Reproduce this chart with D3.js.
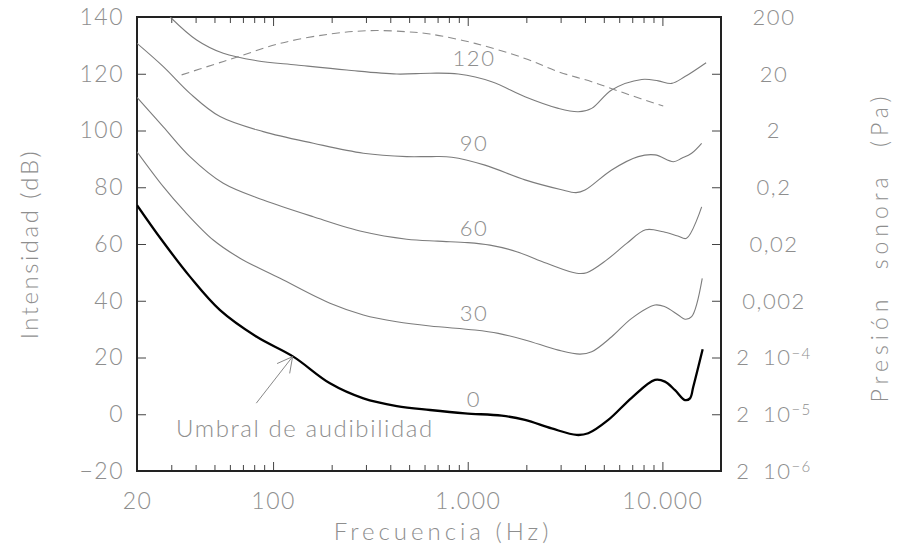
<!DOCTYPE html>
<html><head><meta charset="utf-8">
<script src="https://cdn.jsdelivr.net/npm/d3@7"></script>
<style>
body{margin:0;background:#fff}
text{font-family:Lato,'DejaVu Sans',sans-serif;font-weight:300;fill:#8e8e8e}
</style>
</head><body><svg id="chart" width="901" height="558"></svg>
<script>
// ---- data ----
const threshFreq = [20, 26.8, 37.4, 53.4, 82.4, 127, 196, 291, 432, 640, 968, 1494, 1968, 2698, 3628, 4160, 5272, 6952, 9160, 10300, 11610, 13060, 13860, 14410, 16100];
const threshDb   = [73.7, 61.4, 48.5, 36.7, 27.3, 20.3, 10.9, 5.6, 2.9, 1.5, 0.3, -0.5, -2.0, -5.0, -7.3, -6.7, -2.0, 5.8, 12.1, 11.5, 8.5, 5.0, 5.6, 9.7, 22.9];

const phon30Freq = [20, 27.3, 34.6, 49.3, 67.6, 108.6, 196, 291, 432, 640, 1090, 1436, 1968, 2920, 3774, 4333, 5488, 6952, 9160, 10300, 12060, 13060, 14130, 16020];
const phon30Db   = [92.5, 80.2, 72.0, 61.4, 55.0, 47.9, 39.1, 35.0, 32.6, 31.1, 29.7, 28.5, 26.2, 22.6, 21.2, 22.0, 27.3, 33.8, 38.5, 37.9, 35.0, 33.5, 34.4, 47.9];

const phon60Freq = [20, 27.3, 37.4, 55.5, 89.1, 161, 291, 486, 700, 1000, 1301, 1784, 2545, 3628, 4084, 5176, 6556, 8200, 10100, 12000, 13300, 15910];
const phon60Db   = [111.7, 101.3, 90.8, 81.4, 75.5, 69.6, 64.3, 61.7, 61.0, 60.5, 59.6, 57.3, 53.2, 49.7, 49.9, 54.4, 60.2, 65.0, 64.3, 62.8, 62.0, 73.1];

const phon90Freq = [20, 27.3, 37.4, 53.4, 89.1, 161, 291, 486, 640, 828, 1226, 1968, 3000, 3600, 4004, 5488, 7516, 9160, 11390, 12560, 14130, 15910];
const phon90Db   = [130.7, 122.5, 113.1, 104.9, 99.6, 95.5, 92.0, 90.8, 90.8, 90.6, 87.8, 82.6, 79.2, 78.1, 79.0, 86.1, 90.8, 91.4, 89.0, 90.2, 92.0, 95.5];

const phon120Freq = [29.6, 40.5, 55.5, 82.4, 132, 239, 432, 640, 894, 1328, 1968, 2920, 3698, 4333, 5488, 7830, 9528, 11160, 13060, 16770];
const phon120Db   = [140, 131.9, 127.2, 124.6, 123.1, 121.3, 119.9, 120.2, 119.9, 117.2, 111.9, 107.8, 106.6, 107.8, 114.3, 118.0, 117.5, 116.6, 119.0, 123.9];

const painFreq = [33.9, 49.3, 65, 108.6, 196, 315, 486, 640, 1090, 1968, 2920, 4333, 6427, 10100];
const painDb   = [119.6, 123.2, 125.8, 130.7, 134.0, 135.2, 134.8, 134.0, 130.7, 125.4, 120.7, 117.2, 113.1, 108.6];

const phonLevels = [0, 30, 60, 90, 120];
const phonLabelFreq = 1077;

const dbTicks = [140, 120, 100, 80, 60, 40, 20, 0, -20];
const dbTickLabels = ["140", "120", "100", "80", "60", "40", "20", "0", "\u221220"];
const pressureBase = ["200", "20", "2", "0,2", "0,02", "0,002", "2 10", "2 10", "2 10"];
const pressureExp  = ["", "", "", "", "", "", "\u22124", "\u22125", "\u22126"];

const freqLabelValues = [20, 100, 1000, 10000];
const freqLabels = ["20", "100", "1.000", "10.000"];
const freqMajor = [100, 1000, 10000];
const freqMinor = [30, 40, 50, 60, 70, 80, 90, 200, 300, 400, 500, 600, 700, 800, 900, 2000, 3000, 4000, 5000, 6000, 7000, 8000, 9000];

const annotationText = "Umbral de audibilidad";
const arrowFrom = [82, 3.9];
const arrowTo = [126, 20.3];

// ---- layout ----
const L = 137, R = 721, T = 17, B = 471;
const svg = d3.select("#chart");
const x = d3.scaleLog().domain([20, 20000]).range([L, R]);
const y = d3.scaleLinear().domain([-20, 140]).range([B, T]);

svg.append("defs").append("clipPath").attr("id", "clip")
  .append("rect").attr("x", L).attr("y", T).attr("width", R - L).attr("height", B - T);

const tickStroke = "#444";
function styleAxis(g) {
  g.select(".domain").remove();
  g.selectAll(".tick line").attr("stroke", tickStroke).attr("stroke-width", 1);
  g.selectAll(".tick text").style("font-size", "23px").style("letter-spacing", "1.5px").attr("fill", "#8e8e8e");
}

// left axis
svg.append("g").attr("transform", `translate(${L},0)`)
  .call(d3.axisLeft(y).tickValues(dbTicks).tickSize(-9).tickPadding(13)
    .tickFormat((d, i) => dbTickLabels[i]))
  .call(styleAxis)
  .call(g => g.selectAll(".tick text").attr("font-family", null));

// right axis ticks
svg.append("g").attr("transform", `translate(${R},0)`)
  .call(d3.axisRight(y).tickValues(dbTicks).tickSize(-9).tickFormat(""))
  .call(styleAxis);

// bottom ticks
svg.append("g").attr("transform", `translate(0,${B})`)
  .call(d3.axisBottom(x).tickValues(freqMinor).tickSize(-6).tickFormat(""))
  .call(styleAxis);
svg.append("g").attr("transform", `translate(0,${B})`)
  .call(d3.axisBottom(x).tickValues(freqMajor).tickSize(-9).tickFormat(""))
  .call(styleAxis);
svg.append("g").attr("transform", `translate(0,${B})`)
  .call(d3.axisBottom(x).tickValues(freqLabelValues).tickSize(0).tickPadding(22)
    .tickFormat((d, i) => freqLabels[i]))
  .call(styleAxis);
// top ticks
svg.append("g").attr("transform", `translate(0,${T})`)
  .call(d3.axisTop(x).tickValues(freqMinor).tickSize(-6).tickFormat(""))
  .call(styleAxis);
svg.append("g").attr("transform", `translate(0,${T})`)
  .call(d3.axisTop(x).tickValues(freqMajor).tickSize(-9).tickFormat(""))
  .call(styleAxis);

// right pressure labels
const pl = svg.append("g").selectAll("text").data(pressureBase).join("text")
  .attr("x", 774).attr("y", (d, i) => y(dbTicks[i]))
  .attr("dy", "0.36em").attr("text-anchor", "middle")
  .style("font-size", "22px").style("letter-spacing", "1.5px").style("word-spacing", "5px");
pl.append("tspan").text(d => d);
pl.append("tspan").text((d, i) => pressureExp[i])
  .attr("dy", "-0.45em").style("font-size", "15px");

// frame
svg.append("rect").attr("x", L).attr("y", T).attr("width", R - L).attr("height", B - T)
  .attr("fill", "none").attr("stroke", "#222").attr("stroke-width", 2);

// curves
const line = d3.line().x(d => x(d[0])).y(d => y(d[1])).curve(d3.curveCatmullRom.alpha(0.5));
const zip = (f, v) => f.map((d, i) => [d, v[i]]);
const plot = svg.append("g").attr("clip-path", "url(#clip)");
const thin = [zip(phon30Freq, phon30Db), zip(phon60Freq, phon60Db), zip(phon90Freq, phon90Db), zip(phon120Freq, phon120Db)];
plot.selectAll("path.iso").data(thin).join("path").attr("class", "iso")
  .attr("d", line).attr("fill", "none").attr("stroke", "#7c7c7c").attr("stroke-width", 1.1);
plot.append("path").datum(zip(painFreq, painDb)).attr("d", line)
  .attr("fill", "none").attr("stroke", "#8c8c8c").attr("stroke-width", 1.1).attr("stroke-dasharray", "8,5");
plot.append("path").datum(zip(threshFreq, threshDb)).attr("d", line)
  .attr("fill", "none").attr("stroke", "#000").attr("stroke-width", 2.3);

// phon labels
svg.append("g").selectAll("text").data(phonLevels).join("text")
  .attr("x", x(phonLabelFreq)).attr("y", d => y(d + 5.5)).attr("dy", "0.36em")
  .attr("text-anchor", "middle").style("font-size", "22px").style("letter-spacing", "1.5px")
  .text(d => d);

// annotation
svg.append("text").attr("x", 176).attr("y", 437)
  .style("font-size", "24px").style("letter-spacing", "1.6px").text(annotationText);
const ax0 = x(arrowFrom[0]), ay0 = y(arrowFrom[1]), ax1 = x(arrowTo[0]), ay1 = y(arrowTo[1]);
const ang = Math.atan2(ay0 - ay1, ax0 - ax1), hl = 17, ha = 28 * Math.PI / 180;
const arrowPath = d3.path();
arrowPath.moveTo(ax0, ay0); arrowPath.lineTo(ax1, ay1);
arrowPath.moveTo(ax1 + hl * Math.cos(ang - ha), ay1 + hl * Math.sin(ang - ha));
arrowPath.lineTo(ax1, ay1);
arrowPath.lineTo(ax1 + hl * Math.cos(ang + ha), ay1 + hl * Math.sin(ang + ha));
svg.append("path").attr("d", arrowPath.toString()).attr("fill", "none").attr("stroke", "#888").attr("stroke-width", 1);

// axis titles
svg.append("text").attr("transform", "translate(38,244) rotate(-90)").attr("text-anchor", "middle")
  .style("font-size", "24px").style("letter-spacing", "2.5px").text("Intensidad (dB)");
svg.append("text").attr("transform", "translate(888,247) rotate(-90)").attr("text-anchor", "middle")
  .style("font-size", "23px").style("letter-spacing", "5px").style("word-spacing", "14px").text("Presión sonora (Pa)");
svg.append("text").attr("x", 443).attr("y", 540).attr("text-anchor", "middle")
  .style("font-size", "24px").style("letter-spacing", "4px").text("Frecuencia (Hz)");
</script></body></html>
